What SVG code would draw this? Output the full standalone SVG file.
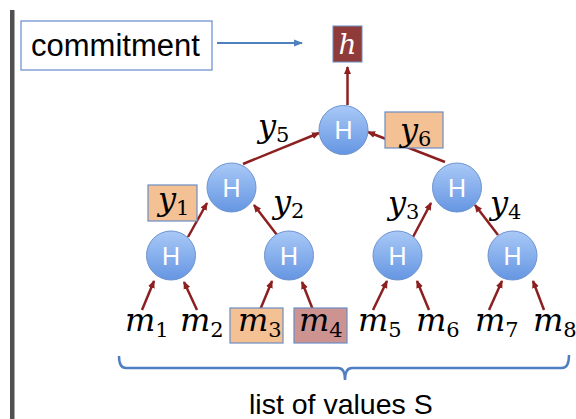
<svg xmlns="http://www.w3.org/2000/svg" width="576" height="419" viewBox="0 0 576 419">
<style>
.hn{fill:url(#hg);stroke:#6E93CF;stroke-width:1}
.hl{font-family:"Liberation Sans",Arial,sans-serif;font-size:25px;fill:#fff;text-anchor:middle}
.ar{stroke:#8C1F1F;stroke-width:2.5;fill:none;marker-end:url(#ra)}
.m{font-family:"DejaVu Serif",serif;font-style:italic;font-size:32px;fill:#000}
.sub{font-style:normal;font-size:21px}
.box{stroke:#6B8CC4;stroke-width:1.2}
.lbl{font-family:"Liberation Sans",Arial,sans-serif;fill:#000}
</style>
<defs>
<linearGradient id="hg" x1="0" y1="0" x2="0" y2="1">
<stop offset="0" stop-color="#A9C9F7"/>
<stop offset="1" stop-color="#6596E2"/>
</linearGradient>
<marker id="ra" markerWidth="8" markerHeight="8" refX="7" refY="4" orient="auto" markerUnits="userSpaceOnUse">
<path d="M0,0.5 L8,4 L0,7.5 Z" fill="#8C1F1F"/>
</marker>
<marker id="ba" markerWidth="9" markerHeight="8" refX="8" refY="4" orient="auto" markerUnits="userSpaceOnUse">
<path d="M0,0.5 L9,4 L0,7.5 Z" fill="#4F81BD"/>
</marker>
</defs>
<rect x="10" y="10" width="4.5" height="409" fill="#505050"/>
<g id="commitment">
<rect x="21" y="21" width="191" height="49" fill="#fff" stroke="#7096D1" stroke-width="1.3"/>
<text class="lbl" x="31" y="56" font-size="31">commitment</text>
</g>
<g id="h">
<rect x="333" y="26" width="29" height="36" fill="#8E3B3A" stroke="#6B8CC4" stroke-width="1"/>
<text x="347.5" y="54" font-family="DejaVu Serif,serif" font-style="italic" font-size="28" fill="#fff" text-anchor="middle">h</text>
</g>
<g id="connectors">
<line x1="217" y1="43" x2="302" y2="43" stroke="#4F81BD" stroke-width="2" marker-end="url(#ba)"/>
<line class="ar" x1="347.5" y1="105" x2="347.5" y2="67"/>
<line class="ar" x1="243" y1="164" x2="319" y2="133"/>
<line class="ar" x1="445" y1="162" x2="368" y2="132"/>
<line class="ar" x1="188" y1="237" x2="207" y2="203"/>
<line class="ar" x1="277" y1="235" x2="254" y2="205"/>
<line class="ar" x1="413" y1="237" x2="431" y2="203"/>
<line class="ar" x1="498" y1="235" x2="475" y2="205"/>
<line class="ar" x1="142" y1="310" x2="154" y2="281"/>
<line class="ar" x1="197" y1="310" x2="184" y2="282"/>
<line class="ar" x1="260" y1="310" x2="272" y2="281"/>
<line class="ar" x1="313" y1="310" x2="302" y2="282"/>
<line class="ar" x1="373" y1="310" x2="387" y2="281"/>
<line class="ar" x1="429" y1="310" x2="417" y2="281"/>
<line class="ar" x1="489" y1="310" x2="502" y2="281"/>
<line class="ar" x1="544" y1="310" x2="533" y2="281"/>
</g>
<g id="y6">
<rect class="box" x="385" y="112" width="58" height="36" fill="#F4C195"/>
<text class="m" x="400" y="141">y<tspan class="sub" dy="5">6</tspan></text>
</g>
<g id="y1">
<rect class="box" x="148" y="185" width="49" height="36" fill="#F4C195"/>
<text class="m" x="158" y="210">y<tspan class="sub" dy="5">1</tspan></text>
</g>
<g id="y5"><text class="m" x="258" y="137">y<tspan class="sub" dy="5">5</tspan></text></g>
<g id="y2"><text class="m" x="273" y="213">y<tspan class="sub" dy="5">2</tspan></text></g>
<g id="y3"><text class="m" x="388" y="214">y<tspan class="sub" dy="5">3</tspan></text></g>
<g id="y4"><text class="m" x="490" y="214">y<tspan class="sub" dy="5">4</tspan></text></g>
<g id="root"><circle class="hn" cx="343.5" cy="130" r="24.5"/><text class="hl" x="343.5" y="139">H</text></g>
<g id="n12"><circle class="hn" cx="231.5" cy="187.5" r="24.5"/><text class="hl" x="231.5" y="196.5">H</text></g>
<g id="n34"><circle class="hn" cx="457" cy="187.5" r="24.5"/><text class="hl" x="457" y="196.5">H</text></g>
<g id="n1"><circle class="hn" cx="171" cy="255.5" r="24.5"/><text class="hl" x="171" y="264.5">H</text></g>
<g id="n2"><circle class="hn" cx="289" cy="255.5" r="24.5"/><text class="hl" x="289" y="264.5">H</text></g>
<g id="n3"><circle class="hn" cx="397.5" cy="255.5" r="24.5"/><text class="hl" x="397.5" y="264.5">H</text></g>
<g id="n4"><circle class="hn" cx="512.5" cy="255.5" r="24.5"/><text class="hl" x="512.5" y="264.5">H</text></g>
<g id="m1"><text class="m" x="125" y="331">m<tspan class="sub" dy="6">1</tspan></text></g>
<g id="m2"><text class="m" x="180" y="331">m<tspan class="sub" dy="6">2</tspan></text></g>
<g id="m3"><rect class="box" x="230" y="308" width="53" height="35" fill="#F4C195"/><text class="m" x="238" y="331">m<tspan class="sub" dy="6">3</tspan></text></g>
<g id="m4"><rect class="box" x="294" y="308" width="53" height="35" fill="#CD9391"/><text class="m" x="299" y="331">m<tspan class="sub" dy="6">4</tspan></text></g>
<g id="m5"><text class="m" x="358" y="331">m<tspan class="sub" dy="6">5</tspan></text></g>
<g id="m6"><text class="m" x="416" y="331">m<tspan class="sub" dy="6">6</tspan></text></g>
<g id="m7"><text class="m" x="475" y="331">m<tspan class="sub" dy="6">7</tspan></text></g>
<g id="m8"><text class="m" x="533" y="331">m<tspan class="sub" dy="6">8</tspan></text></g>
<g id="brace">
<path d="M119,356 Q119,368 126,368 L338,368 Q345,368 345,380 Q345,368 352,368 L562,368 Q569,368 569,355" fill="none" stroke="#4F7FC0" stroke-width="2.5"/>
<text class="lbl" x="249" y="414" font-size="28.5">list of values  S</text>
</g>
</svg>
